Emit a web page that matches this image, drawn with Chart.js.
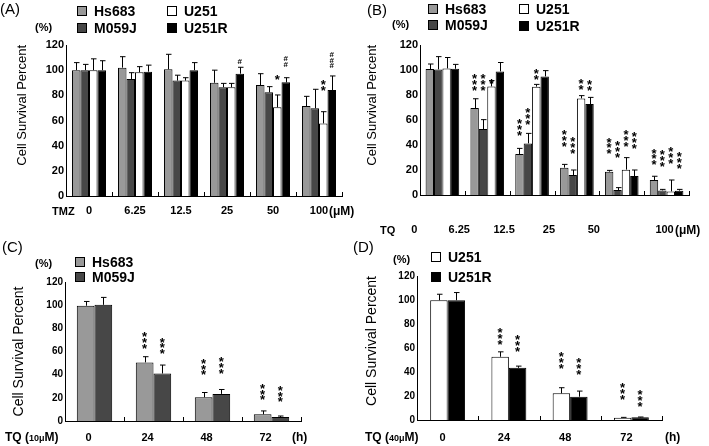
<!DOCTYPE html>
<html>
<head>
<meta charset="utf-8">
<script src="https://cdn.jsdelivr.net/npm/chart.js@4.4.1/dist/chart.umd.min.js"></script>
<style>
body { margin: 0; background: #fff; width: 709px; height: 446px; position: relative; overflow: hidden; font-family: "Liberation Sans", Arial, sans-serif; color: #000; }
canvas { position: absolute; }
.t { position: absolute; white-space: nowrap; line-height: 1; font-weight: bold; font-size: 11px; }
.t.p { font-weight: normal; font-size: 15px; }
.t small { font-size: 9px; }
.lg { position: absolute; font-weight: bold; font-size: 14px; line-height: 1; white-space: nowrap; }
.lg i { position: absolute; left: -17px; top: 2px; width: 8px; height: 8px; border: 1px solid #000; }
</style>
</head>
<body>
<canvas id="chartA" width="355" height="230" style="left:0;top:0"></canvas>
<canvas id="chartB" width="359" height="240" style="left:350px;top:0"></canvas>
<canvas id="chartC" width="350" height="206" style="left:0;top:240px"></canvas>
<canvas id="chartD" width="359" height="206" style="left:350px;top:240px"></canvas>

<div class="t p" style="left:0;top:1px">(A)</div>
<div class="t" style="left:35px;top:22px">(%)</div>
<div class="t" style="left:52px;top:206px">TMZ</div>
<div class="t" style="left:329px;top:205px;font-size:12px">(μM)</div>

<div class="t p" style="left:367px;top:2px">(B)</div>
<div class="t" style="left:392px;top:19px">(%)</div>
<div class="t" style="left:380px;top:225px">TQ</div>
<div class="t" style="left:675px;top:224px;font-size:12px">(μM)</div>

<div class="t p" style="left:2px;top:239px">(C)</div>
<div class="t" style="left:35px;top:258px">(%)</div>
<div class="t" style="left:5px;top:431px;font-size:12px">TQ (<small>10μ</small>M)</div>
<div class="t" style="left:292px;top:431px;font-size:12px">(h)</div>

<div class="t p" style="left:353px;top:239px">(D)</div>
<div class="t" style="left:393px;top:254px">(%)</div>
<div class="t" style="left:365px;top:431px;font-size:12px">TQ (<small>40μ</small>M)</div>
<div class="t" style="left:665px;top:431px;font-size:12px">(h)</div>

<script>
Chart.defaults.font.family = '"Liberation Sans", Arial, sans-serif';
Chart.defaults.color = '#000';

const doseLabels = ['0', '6.25', '12.5', '25', '50', '100'];
const timeLabels = ['0', '24', '48', '72'];
const cellLines = ['Hs683', 'M059J', 'U251', 'U251R'];
const cellColors = ['#999999', '#474747', '#ffffff', '#000000'];

// (A) TMZ, mean and SD per cell line
const tmzHs683 = [100, 102, 100.7, 90, 88.2, 71.5];
const tmzHs683Sd = [6, 8.7, 11.9, 10, 9, 7.7];
const tmzM059J = [100, 93, 91.7, 86.4, 82.4, 69.7];
const tmzM059JSd = [4.6, 5, 4.3, 3.1, 4.5, 15.1];
const tmzU251 = [100, 98.3, 91.7, 86.4, 70.5, 57.7];
const tmzU251Sd = [9, 4.5, 2.3, 3.1, 9.8, 9.3];
const tmzU251R = [100, 98.8, 100, 97.2, 90.3, 84.2];
const tmzU251RSd = [7.5, 5.2, 6, 5.1, 3.7, 11.2];

// (B) TQ dose
const tqHs683 = [100.8, 69.6, 32.8, 21.9, 18.7, 12];
const tqHs683Sd = [4, 7.4, 4.5, 2.6, 1, 3];
const tqM059J = [100.5, 52.8, 41.3, 16, 4, 3.7];
const tqM059JSd = [10.2, 7.5, 8, 4, 1.9, 0.8];
const tqU251 = [101.3, 86.9, 86.7, 77.3, 20.3, 2.9];
const tqU251Sd = [8.7, 4.6, 1.8, 2.2, 9.6, 9.1];
const tqU251R = [101, 98.9, 94.9, 72.8, 15.2, 3.5];
const tqU251RSd = [3.5, 7.1, 4.6, 5.3, 4.8, 1];

// (C) TQ 10uM time course
const timeHs683 = [99.5, 50.6, 20.5, 5.8];
const timeHs683Sd = [3.7, 4.9, 4.1, 2.9];
const timeM059J = [100.3, 41, 23.4, 3.5];
const timeM059JSd = [6.4, 7.3, 3.8, 0.8];

// (D) TQ 40uM time course
const timeU251 = [99.8, 52.7, 22.2, 1.9];
const timeU251Sd = [5, 4.1, 4.7, 0.3];
const timeU251R = [99.8, 43.5, 19.4, 2.2];
const timeU251RSd = [6.4, 1.4, 4.7, 0.3];

// significance marks: [series, category, symbol, level of lowest mark]
const marksA = [[3, 3, '#', 107], [2, 4, '*', 95], [3, 4, '##', 105], [2, 5, '**', 86], [3, 5, '###', 104]];
const marksB = [
    [0, 1, '***', 86], [1, 1, '***', 86], [2, 1, '*', 92],
    [0, 2, '***', 50], [1, 2, '***', 59], [2, 2, '**', 94.7],
    [0, 3, '***', 41.3], [1, 3, '***', 36], [2, 3, '**', 86.7], [3, 3, '**', 85.9],
    [0, 4, '***', 35.5], [1, 4, '***', 32.8], [2, 4, '***', 41.3], [3, 4, '***', 40],
    [0, 5, '***', 26.7], [1, 5, '***', 25.3], [2, 5, '***', 28], [3, 5, '***', 24],
];
const marksC = [[0, 1, '***', 65.6], [1, 1, '***', 61], [0, 2, '***', 42.6], [1, 2, '***', 44], [0, 3, '***', 21], [1, 3, '***', 19]];
const marksD = [[0, 1, '***', 65.3], [1, 1, '***', 59.7], [0, 2, '***', 45.8], [1, 2, '***', 40.3], [0, 3, '***', 19.4], [1, 3, '***', 13.9]];

// error bars (upper only), category separator ticks and significance marks
const errorBars = {
    id: 'errorBars',
    afterDatasetsDraw(chart, args, opts) {
        const ctx = chart.ctx;
        const x = chart.scales.x, y = chart.scales.y;
        ctx.save();
        ctx.strokeStyle = '#000';
        ctx.lineWidth = 1;
        ctx.beginPath();
        chart.data.datasets.forEach((ds, di) => {
            chart.getDatasetMeta(di).data.forEach((bar, i) => {
                const top = y.getPixelForValue(ds.data[i] + ds.sd[i]);
                const bx = Math.round(bar.x) + 0.5;
                ctx.moveTo(bx, bar.y);
                ctx.lineTo(bx, top);
                ctx.moveTo(bx - 2.5, top);
                ctx.lineTo(bx + 3, top);
            });
        });
        const n = chart.data.labels.length;
        for (let i = 1; i <= n; i++) {
            const px = Math.round(i < n ? (x.getPixelForValue(i - 1) + x.getPixelForValue(i)) / 2 : x.right) + 0.5;
            ctx.moveTo(px, y.bottom);
            ctx.lineTo(px, y.bottom - 4);
        }
        ctx.stroke();
        ctx.fillStyle = '#000';
        ctx.textAlign = 'center';
        ctx.textBaseline = 'alphabetic';
        (opts.marks || []).forEach(([di, i, sym, level]) => {
            const bar = chart.getDatasetMeta(di).data[i];
            let py = y.getPixelForValue(level);
            for (const ch of sym) {
                if (ch === '*') {
                    ctx.font = 'bold 13px "Liberation Sans", Arial, sans-serif';
                    ctx.fillText(ch, bar.x, py + 7.5);
                    py -= opts.step || 5.8;
                } else {
                    ctx.font = 'bold 8px "Liberation Sans", Arial, sans-serif';
                    ctx.fillText(ch, bar.x, py + 3);
                    py -= 5.5;
                }
            }
        });
        ctx.restore();
    }
};

function makeLegend(names, colors, spots) {
    names.forEach((name, k) => {
        const el = document.createElement('div');
        el.className = 'lg';
        el.style.left = spots[k][0] + 'px';
        el.style.top = spots[k][1] + 'px';
        el.innerHTML = '<i style="background:' + colors[k] + '"></i>' + name;
        document.body.appendChild(el);
    });
}

function makeDatasets(names, colors, values, sds) {
    return names.map((name, k) => ({
        label: name,
        data: values[k],
        sd: sds[k],
        backgroundColor: colors[k],
        borderColor: '#000',
        borderWidth: 1,
    }));
}

function makeChart(id, labels, datasets, cfg) {
    return new Chart(document.getElementById(id), {
        type: 'bar',
        data: { labels: labels, datasets: datasets },
        options: {
            responsive: false,
            animation: false,
            layout: { padding: { top: cfg.top, right: cfg.right, left: 0, bottom: 0 } },
            datasets: { bar: { categoryPercentage: cfg.cat, barPercentage: 1 } },
            plugins: {
                legend: { display: false },
                tooltip: { enabled: false },
                errorBars: { marks: cfg.marks, step: cfg.step },
            },
            scales: {
                x: {
                    grid: { display: false, drawTicks: false },
                    border: { color: '#000' },
                    ticks: {
                        font: { size: cfg.xFont, weight: 'bold' },
                        padding: cfg.xPad,
                        labelOffset: cfg.labelOffset || 0,
                        maxRotation: 0,
                        autoSkip: false,
                        callback: cfg.xCallback || function (v, i) { return labels[i]; },
                    },
                    afterFit: s => { s.height = cfg.xHeight; s.paddingLeft = 0; s.paddingRight = 0; },
                },
                y: {
                    min: 0,
                    max: 120,
                    grid: { display: false, drawTicks: false },
                    border: { color: '#000' },
                    ticks: { stepSize: 20, font: { size: cfg.yFont, weight: 'bold' }, padding: 2 },
                    title: {
                        display: true,
                        text: 'Cell Survival Percent',
                        font: { size: cfg.titleFont },
                        padding: { top: cfg.titlePad, bottom: 0 },
                        align: cfg.titleAlign,
                    },
                    afterFit: s => { s.width = cfg.yWidth; },
                },
            },
        },
        plugins: [errorBars],
    });
}

makeChart('chartA', doseLabels,
    makeDatasets(cellLines, cellColors, [tmzHs683, tmzM059J, tmzU251, tmzU251R], [tmzHs683Sd, tmzM059JSd, tmzU251Sd, tmzU251RSd]),
    { top: 45, right: 13, cat: 0.74, xFont: 11, xPad: 8, xHeight: 34, yFont: 11, yWidth: 66, titleFont: 13, titlePad: 15, titleAlign: 'end', marks: marksA });

makeChart('chartB', doseLabels,
    makeDatasets(cellLines, cellColors, [tqHs683, tqM059J, tqU251, tqU251R], [tqHs683Sd, tqM059JSd, tqU251Sd, tqU251RSd]),
    { top: 45, right: 20, cat: 0.75, xFont: 11, xPad: 28, xHeight: 45, yFont: 11, yWidth: 70, titleFont: 13, titlePad: 15, titleAlign: 'end', marks: marksB,
      labelOffset: -28, xCallback: (v, i) => (i === 5 ? '\u00a0'.repeat(17) : '') + doseLabels[i] });

makeChart('chartC', timeLabels,
    makeDatasets(cellLines.slice(0, 2), cellColors.slice(0, 2), [timeHs683, timeM059J], [timeHs683Sd, timeM059JSd]),
    { top: 42, right: 49, cat: 0.6, xFont: 11, xPad: 10, xHeight: 25, yFont: 10, yWidth: 65, titleFont: 14, titlePad: 10.5, titleAlign: 'center', marks: marksC,
      labelOffset: -6, step: 5.6 });

makeChart('chartD', timeLabels,
    makeDatasets(cellLines.slice(2), cellColors.slice(2), [timeU251, timeU251R], [timeU251Sd, timeU251RSd]),
    { top: 36, right: 47, cat: 0.57, xFont: 11, xPad: 11, xHeight: 26, yFont: 10, yWidth: 67, titleFont: 14, titlePad: 13.5, titleAlign: 'end', marks: marksD,
      labelOffset: -5, step: 5.9 });

makeLegend(cellLines, cellColors, [[94, 4], [94, 21], [184, 4], [184, 21]]);
makeLegend(cellLines, cellColors, [[445, 2], [445, 18], [536, 2], [536, 19]]);
makeLegend(cellLines.slice(0, 2), cellColors.slice(0, 2), [[92, 255], [92, 270]]);
makeLegend(cellLines.slice(2), cellColors.slice(2), [[448, 250], [448, 270]]);
</script>
</body>
</html>
